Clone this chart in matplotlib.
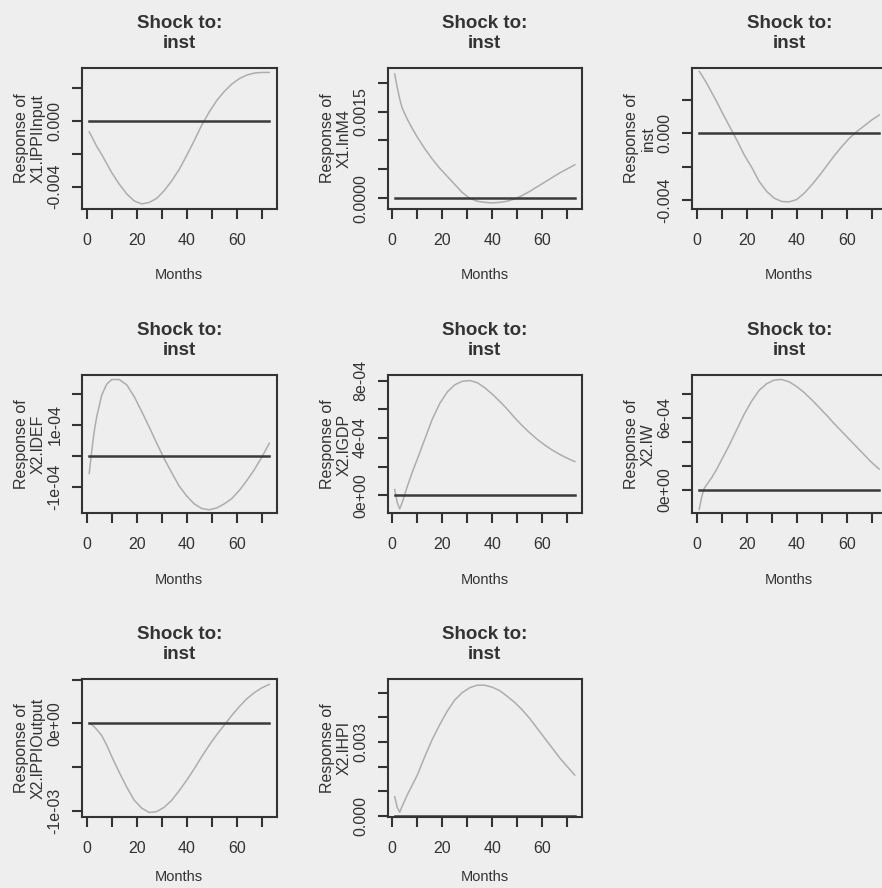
import numpy as np
import matplotlib
matplotlib.use("Agg")
import matplotlib.pyplot as plt
from matplotlib.transforms import offset_copy

# impulse responses to a shock in "inst"
months = [1, 2, 3, 4, 6, 8, 10, 13, 16, 19, 22, 25, 28, 31, 34, 37, 40, 43,
          46, 49, 52, 55, 58, 61, 64, 67, 70, 73]

# values in units of 1e-3
x1_lppiinput = [-0.66, -0.95, -1.25, -1.55, -2.05, -2.6, -3.15, -3.85, -4.45,
                -4.88, -5.06, -4.97, -4.72, -4.25, -3.65, -2.95, -2.1, -1.2,
                -0.25, 0.55, 1.25, 1.8, 2.25, 2.58, 2.8, 2.92, 2.96, 2.96]
x1_lnm4 = [2.15, 1.92, 1.72, 1.56, 1.37, 1.21, 1.06, 0.86, 0.68, 0.52, 0.38,
           0.24, 0.1, 0.0, -0.05, -0.07, -0.08, -0.07, -0.05, -0.01, 0.05,
           0.12, 0.2, 0.28, 0.36, 0.44, 0.51, 0.58]
inst = [3.72, 3.5, 3.25, 3.0, 2.45, 1.9, 1.3, 0.45, -0.4, -1.3, -2.05, -2.9,
        -3.5, -3.9, -4.1, -4.12, -3.98, -3.6, -3.1, -2.55, -1.95, -1.35,
        -0.8, -0.3, 0.1, 0.45, 0.8, 1.1]
x2_lhpi = [0.78, 0.35, 0.15, 0.4, 0.85, 1.25, 1.65, 2.4, 3.1, 3.7, 4.25, 4.7,
           5.0, 5.2, 5.3, 5.3, 5.22, 5.08, 4.85, 4.6, 4.3, 3.95, 3.55, 3.15,
           2.75, 2.35, 2.0, 1.66]
# values in units of 1e-4
x2_ldef = [-0.57, 0.15, 0.78, 1.25, 1.95, 2.3, 2.45, 2.45, 2.28, 1.9, 1.42,
           0.92, 0.4, -0.1, -0.55, -0.98, -1.3, -1.55, -1.7, -1.74, -1.68,
           -1.55, -1.38, -1.12, -0.8, -0.45, -0.05, 0.4]
x2_lgdp = [0.4, -0.5, -0.95, -0.5, 0.6, 1.6, 2.5, 3.9, 5.3, 6.4, 7.2, 7.7,
           7.95, 8.0, 7.85, 7.5, 7.05, 6.55, 6.0, 5.4, 4.85, 4.35, 3.9, 3.5,
           3.15, 2.85, 2.58, 2.35]
x2_lw = [-1.67, -0.6, 0.1, 0.4, 1.0, 1.7, 2.5, 3.7, 5.0, 6.3, 7.4, 8.3, 8.85,
         9.15, 9.2, 9.0, 8.6, 8.1, 7.5, 6.85, 6.2, 5.5, 4.85, 4.2, 3.55, 2.9,
         2.25, 1.7]
x2_lppioutput = [0.0, -0.15, -0.4, -0.7, -1.4, -2.5, -3.8, -5.6, -7.3, -8.8,
                 -9.7, -10.2, -10.1, -9.6, -8.8, -7.7, -6.5, -5.2, -3.8, -2.5,
                 -1.3, -0.2, 0.9, 1.9, 2.8, 3.5, 4.05, 4.45]

# layout: (series, scale, ylabel, box [left, top, width, height] px, ylim,
#          yticks, yticklabels, offset of "Months" below the box)
panels = [
    (x1_lppiinput, 1e-3, "X1.lPPIInput", [82, 68, 194.5, 141], (-0.00537, 0.00323),
     [-0.004, -0.002, 0.0, 0.002], ["-0.004", "", "0.000", ""], 66),
    (x1_lnm4, 1e-3, "X1.lnM4", [387.5, 68, 194.5, 141], (-0.000185, 0.002254),
     [0.0, 0.0005, 0.001, 0.0015, 0.002], ["0.0000", "", "", "0.0015", ""], 66),
    (inst, 1e-3, "inst", [692, 68, 194.5, 141], (-0.00455, 0.00392),
     [-0.004, -0.002, 0.0, 0.002], ["-0.004", "", "0.000", ""], 66),
    (x2_ldef, 1e-4, "X2.lDEF", [82, 375.5, 194.5, 138], (-1.86e-4, 2.58e-4),
     [-1e-4, 0.0, 1e-4, 2e-4], ["-1e-04", "", "1e-04", ""], 66),
    (x2_lgdp, 1e-4, "X2.lGDP", [387.5, 375.5, 194.5, 138], (-1.27e-4, 8.35e-4),
     [0.0, 2e-4, 4e-4, 6e-4, 8e-4], ["0e+00", "", "4e-04", "", "8e-04"], 66),
    (x2_lw, 1e-4, "X2.lW", [692, 375.5, 194.5, 138], (-2.0e-4, 9.53e-4),
     [0.0, 2e-4, 4e-4, 6e-4, 8e-4], ["0e+00", "", "", "6e-04", ""], 66),
    (x2_lppioutput, 1e-4, "X2.lPPIOutput", [82, 679.3, 194.5, 138], (-1.075e-3, 5.03e-4),
     [-1e-3, -5e-4, 0.0, 5e-4], ["-1e-03", "", "0e+00", ""], 60),
    (x2_lhpi, 1e-3, "X2.lHPI", [387.5, 679.3, 194.5, 138], (-0.000053, 0.00554),
     [0.0, 0.001, 0.002, 0.003, 0.004, 0.005], ["0.000", "", "", "0.003", "", ""], 60),
]

W, H = 882, 888
bg = "#eeeeee"
ink = "#333333"
plt.rcParams["font.family"] = ["Liberation Sans", "DejaVu Sans"]

fig = plt.figure(figsize=(W / 100, H / 100), dpi=100, facecolor=bg)

for series, scale, ylab, box, ylim, yticks, ylabels, xlab_off in panels:
    l, t, w, h = box
    ax = fig.add_axes([l / W, 1 - (t + h) / H, w / W, h / H])
    ax.set_facecolor(bg)
    resp = np.array(series) * scale
    ax.plot(months, resp, color="#adadad", lw=1.1)
    ax.plot([months[0], months[-1]], [0, 0], color="#3a3a3a", lw=1.8)
    ax.set_xlim(-1.88, 75.88)
    ax.set_ylim(*ylim)
    ax.set_xticks(range(0, 80, 10), ["0", "", "20", "", "40", "", "60", ""])
    ax.set_yticks(yticks, ylabels)
    for s in ax.spines.values():
        s.set_color(ink)
        s.set_linewidth(1.5)
    ax.tick_params(axis="both", direction="out", length=7, width=1.5,
                   color=ink, labelcolor=ink, labelsize=11.5)
    ax.tick_params(axis="x", pad=10)
    ax.tick_params(axis="y", pad=7, labelrotation=90)
    plt.setp(ax.get_yticklabels(), va="center")

    # title, two lines
    tr_top = offset_copy(ax.transAxes, fig=fig, x=0, y=45, units="dots")
    ax.text(0.5, 1, "Shock to:", transform=tr_top, ha="center", va="center",
            fontsize=13.5, fontweight="bold", color=ink)
    tr_top2 = offset_copy(ax.transAxes, fig=fig, x=0, y=25, units="dots")
    ax.text(0.5, 1, "inst", transform=tr_top2, ha="center", va="center",
            fontsize=13.5, fontweight="bold", color=ink)

    # y label
    tr_left = offset_copy(ax.transAxes, fig=fig, x=-52, y=0, units="dots")
    ax.text(0, 0.5, "Response of\n" + ylab, transform=tr_left, rotation=90,
            ha="center", va="center", fontsize=11.5, color=ink, linespacing=1.15)

    # x label
    tr_bot = offset_copy(ax.transAxes, fig=fig, x=0, y=-xlab_off, units="dots")
    ax.text(0.5, 0, "Months", transform=tr_bot, ha="center", va="center",
            fontsize=10.5, color=ink)

fig.savefig("out.png", dpi=100, facecolor=bg)
